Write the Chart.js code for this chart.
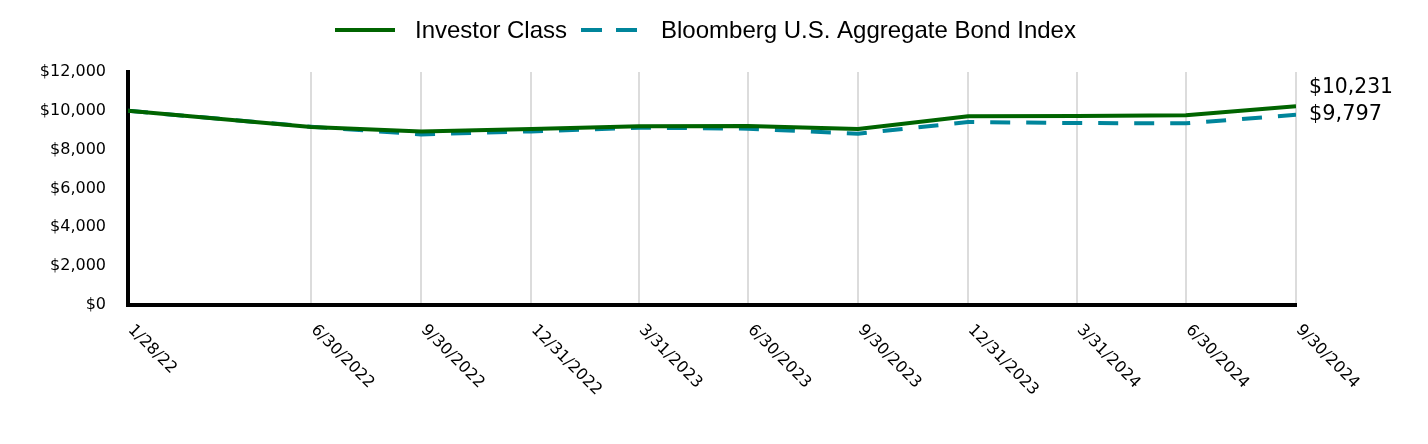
<!DOCTYPE html>
<html>
<head>
<meta charset="utf-8">
<script src="https://cdn.jsdelivr.net/npm/chart.js@4/dist/chart.umd.min.js"></script>
<style>
html,body{margin:0;padding:0;background:#fff;}
#wrap{width:1428px;height:444px;position:relative;}
</style>
</head>
<body>
<div id="wrap"><canvas id="c" width="1428" height="444"></canvas></div>
<script>
const dates = ['2022-01-28','2022-06-30','2022-09-30','2022-12-31','2023-03-31','2023-06-30','2023-09-30','2023-12-31','2024-03-31','2024-06-30','2024-09-30'];
const tickLabels = ['1/28/22','6/30/2022','9/30/2022','12/31/2022','3/31/2023','6/30/2023','9/30/2023','12/31/2023','3/31/2024','6/30/2024','9/30/2024'];
const investorClass = [10000, 9164, 8942, 9061, 9200, 9216, 9061, 9716, 9732, 9768, 10231];
const bloombergAgg = [10000, 9180, 8787, 8942, 9133, 9082, 8823, 9422, 9370, 9355, 9797];
const yTicks = [0, 2000, 4000, 6000, 8000, 10000, 12000];
const seriesNames = ['Investor Class', 'Bloomberg U.S. Aggregate Bond Index'];
const GREEN = '#006400';
const TEAL = '#00859b';

const dayNum = d => Date.UTC(+d.slice(0,4), +d.slice(5,7)-1, +d.slice(8,10)) / 86400000;
const xs = dates.map(dayNum);
const fmt = v => '$' + Math.round(v).toLocaleString('en-US');

const overlay = {
  id: 'overlay',
  afterDraw(chart) {
    const ctx = chart.ctx;
    const xScale = chart.scales.x;
    // x tick labels rotated 45deg clockwise
    ctx.save();
    ctx.fillStyle = '#000';
    ctx.font = '16px "DejaVu Sans"';
    ctx.textAlign = 'left';
    ctx.textBaseline = 'top';
    xs.forEach((v, i) => {
      const px = xScale.getPixelForValue(v);
      ctx.save();
      ctx.translate(px + 8, 322);
      ctx.rotate(Math.PI / 4);
      ctx.fillText(tickLabels[i], 0, 0);
      ctx.restore();
    });
    ctx.restore();

    // end labels
    const m1 = chart.getDatasetMeta(1).data;
    const blueY = m1[m1.length - 1].y;
    ctx.save();
    ctx.fillStyle = '#000';
    ctx.font = '21px "DejaVu Sans"';
    ctx.textAlign = 'left';
    ctx.textBaseline = 'middle';
    const lx = chart.chartArea.right + 13;
    ctx.fillText(fmt(investorClass[investorClass.length - 1]), lx, blueY - 27, 84);
    ctx.fillText(fmt(bloombergAgg[bloombergAgg.length - 1]), lx, blueY, 73);
    ctx.restore();

    // legend
    ctx.save();
    ctx.lineWidth = 4;
    ctx.strokeStyle = GREEN;
    ctx.beginPath(); ctx.moveTo(335, 30); ctx.lineTo(395, 30); ctx.stroke();
    ctx.strokeStyle = TEAL;
    ctx.setLineDash([21, 14]);
    ctx.beginPath(); ctx.moveTo(581, 30); ctx.lineTo(637, 30); ctx.stroke();
    ctx.setLineDash([]);
    ctx.fillStyle = '#000';
    ctx.font = '24px "Liberation Sans"';
    ctx.textAlign = 'left';
    ctx.textBaseline = 'middle';
    ctx.fillText(seriesNames[0], 415, 31);
    ctx.fillText(seriesNames[1], 661, 31);
    ctx.restore();
  }
};

new Chart(document.getElementById('c'), {
  type: 'line',
  data: {
    datasets: [
      {
        label: seriesNames[0],
        data: xs.map((x, i) => ({x, y: investorClass[i]})),
        borderColor: GREEN,
        backgroundColor: GREEN,
        borderWidth: 4,
        pointRadius: 0,
        tension: 0,
        order: 0
      },
      {
        label: seriesNames[1],
        data: xs.map((x, i) => ({x, y: bloombergAgg[i]})),
        borderColor: TEAL,
        backgroundColor: TEAL,
        borderWidth: 4,
        borderDash: [20, 16],
        pointRadius: 0,
        tension: 0,
        order: 1
      }
    ]
  },
  options: {
    responsive: false,
    animation: false,
    layout: { padding: { top: 72, right: 132, left: 0, bottom: 0 } },
    plugins: { legend: { display: false }, tooltip: { enabled: false } },
    scales: {
      x: {
        type: 'linear',
        min: xs[0],
        max: xs[xs.length - 1],
        afterBuildTicks: s => { s.ticks = xs.map(v => ({ value: v })); },
        afterFit: s => { s.height = 139; },
        ticks: { display: false },
        grid: { display: true, color: '#dcdcdc', lineWidth: 2, drawTicks: false },
        border: { display: true, color: '#000', width: 4 }
      },
      y: {
        min: 0,
        max: 12000,
        afterBuildTicks: s => { s.ticks = yTicks.map(v => ({ value: v })); },
        afterFit: s => { s.width = 128; },
        ticks: {
          color: '#000',
          font: { family: 'DejaVu Sans', size: 16 },
          padding: 22,
          callback: v => fmt(v)
        },
        grid: { display: false, drawTicks: false },
        border: { display: true, color: '#000', width: 4 }
      }
    }
  },
  plugins: [overlay]
});
</script>
</body>
</html>
